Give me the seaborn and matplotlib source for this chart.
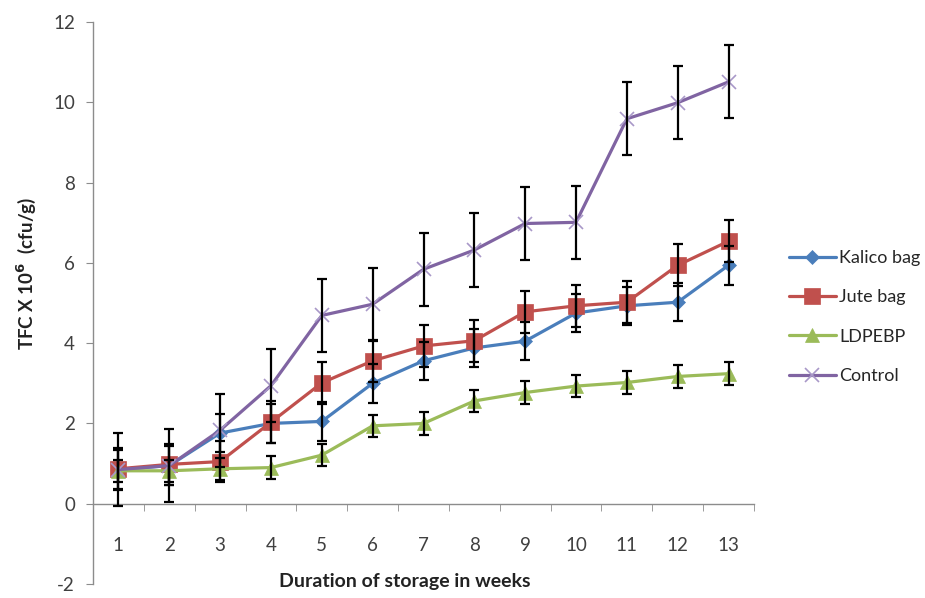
import matplotlib
matplotlib.use("Agg")
import matplotlib.pyplot as plt
import seaborn as sns

# ---------- DATA ----------
weeks = list(range(1, 14))

kalico = [0.85, 0.95, 1.76, 2.0, 2.05, 3.0, 3.56, 3.88, 4.05, 4.75, 4.93, 5.02, 5.94]
jute = [0.87, 0.98, 1.05, 2.03, 3.01, 3.56, 3.93, 4.06, 4.78, 4.93, 5.02, 5.94, 6.54]
ldpebp = [0.82, 0.82, 0.87, 0.9, 1.21, 1.94, 2.0, 2.56, 2.77, 2.93, 3.02, 3.17, 3.24]
control = [0.85, 0.95, 1.83, 2.94, 4.69, 4.97, 5.84, 6.32, 6.98, 7.01, 9.59, 9.99, 10.51]

kalico_err = [0.48] * 13
jute_err = [0.52] * 13
ldpebp_err = [0.28] * 13
control_err = [0.91] * 13

names = ["Kalico bag", "Jute bag", "LDPEBP", "Control"]
series = [kalico, jute, ldpebp, control]
errors = [kalico_err, jute_err, ldpebp_err, control_err]
colors = ["#4A7EBB", "#C0504D", "#9BBB59", "#8064A2"]
markers = ["D", "s", "^", "x"]
msizes = [7, 11, 10, 10]

# ---------- STYLE ----------
sns.set_style("white")
plt.rcParams["font.family"] = ["Lato", "DejaVu Sans"]
plt.rcParams["axes.unicode_minus"] = False

fig = plt.figure(figsize=(9.25, 5.98), dpi=100)
ax = fig.add_axes([93 / 925, 14 / 598, (754 - 93) / 925, 562 / 598])

# ---------- LINES ----------
for name, vals, col, mk, ms in zip(names, series, colors, markers, msizes):
    sns.lineplot(x=weeks, y=vals, ax=ax, color=col, marker=mk, markersize=ms,
                 markeredgecolor="#a898c8" if mk == "x" else col,
                 markeredgewidth=1.2 if mk == "x" else 0.5,
                 linewidth=2.3, label=name, zorder=2)

# error bars on top
for vals, err in zip(series, errors):
    ax.errorbar(weeks, vals, yerr=err, fmt="none", ecolor="black",
                elinewidth=1.6, capsize=3.5, capthick=1.6, zorder=3)

# ---------- AXES ----------
ax.set_xlim(0.5, 13.5)
ax.set_ylim(-2, 12)
ax.set_yticks(range(-2, 13, 2))
ax.set_xticks(weeks)
ax.set_xticks([w + 0.5 for w in range(0, 14)], minor=True)

ax.spines["top"].set_visible(False)
ax.spines["right"].set_visible(False)
ax.spines["bottom"].set_position(("data", 0))
for s in ["left", "bottom"]:
    ax.spines[s].set_color("#8c8c8c")
    ax.spines[s].set_linewidth(1.0)

ax.tick_params(axis="y", which="major", direction="out", length=5, color="#8c8c8c",
               labelsize=13.5, labelcolor="#404040", pad=8, left=True)
ax.tick_params(axis="x", which="major", length=0, labelsize=13.5,
               labelcolor="#404040", pad=24)
ax.tick_params(axis="x", which="minor", direction="out", length=5,
               color="#8c8c8c", bottom=True)

ax.set_xlabel("")
ax.set_ylabel("")
fig.text(405 / 925, 1 - 582 / 598, "Duration of storage in weeks",
         ha="center", va="center", fontsize=14, fontweight="bold", color="#222222")
fig.text(26 / 925, 1 - 273 / 598, r"TFC X 10$^{\mathbf{6}}$  (cfu/g)", rotation=90,
         ha="center", va="center", fontsize=13.5, fontweight="bold", color="#222222")

ax.legend(loc="center left", bbox_to_anchor=(1.028, 0.475), frameon=False,
          fontsize=13, handlelength=2.6, handletextpad=0.2, labelspacing=1.3)

fig.savefig("out.png", dpi=100)
